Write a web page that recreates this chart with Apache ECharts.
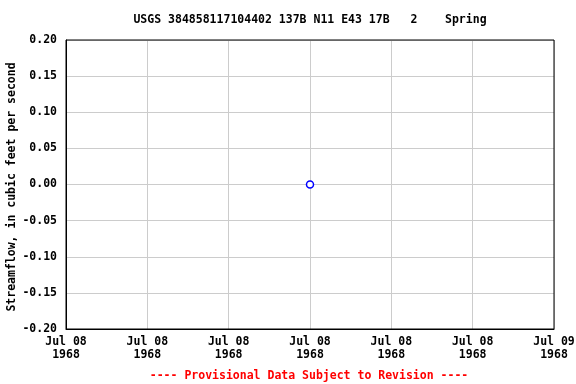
<!DOCTYPE html>
<html><head><meta charset="utf-8">
<script src="https://cdn.jsdelivr.net/npm/echarts@6/dist/echarts.min.js"></script>
<style>html,body{margin:0;padding:0;background:#fff}#c{width:576px;height:384px}</style>
</head><body><div id="c"></div>
<script>
const titleText = 'USGS 384858117104402 137B N11 E43 17B   2    Spring';
const yAxisName = 'Streamflow, in cubic feet per second';
const footerText = '---- Provisional Data Subject to Revision ----';
const xMin = Date.UTC(1968, 6, 8, 0);
const xMax = Date.UTC(1968, 6, 9, 0);
const xInterval = 4 * 3600 * 1000;
const pointTimes = [Date.UTC(1968, 6, 8, 12)];
const pointValues = [0.00];
const yMin = -0.20, yMax = 0.20, yInterval = 0.05;
const months = ['Jan','Feb','Mar','Apr','May','Jun','Jul','Aug','Sep','Oct','Nov','Dec'];

const font = 'DejaVu Sans Mono';
const fs = 11.5;
const chart = echarts.init(document.getElementById('c'), null, {renderer: 'canvas'});
chart.setOption({
  animation: false,
  backgroundColor: '#fff',
  title: [
    {text: titleText, left: 305, top: 9, textAlign: 'center',
     textStyle: {fontFamily: font, fontWeight: 'bold', fontSize: fs, color: '#000'}},
    {text: footerText, left: 304, top: 365, textAlign: 'center',
     textStyle: {fontFamily: font, fontWeight: 'bold', fontSize: fs, color: '#ff0000'}}
  ],
  grid: {left: 66, right: 22, top: 40, bottom: 55, containLabel: false, outerBoundsMode: 'none'},
  xAxis: {
    type: 'value', min: xMin, max: xMax, interval: xInterval,
    axisLine: {show: true, onZero: false, lineStyle: {color: '#000', width: 1}},
    axisTick: {show: false},
    splitLine: {show: true, lineStyle: {color: '#cccccc', width: 1}},
    axisLabel: {
      fontFamily: font, fontWeight: 'bold', fontSize: fs, color: '#000', margin: 7, lineHeight: 13,
      showMinLabel: true, showMaxLabel: true,
      formatter: function (v) {
        const d = new Date(v);
        const dd = String(d.getUTCDate()).padStart(2, '0');
        return months[d.getUTCMonth()] + ' ' + dd + '\n' + d.getUTCFullYear();
      }
    }
  },
  yAxis: {
    type: 'value', min: yMin, max: yMax, interval: yInterval,
    axisLine: {show: true, onZero: false, lineStyle: {color: '#000', width: 1}},
    axisTick: {show: false},
    splitLine: {show: true, lineStyle: {color: '#cccccc', width: 1}},
    axisLabel: {fontFamily: font, fontWeight: 'bold', fontSize: fs, color: '#000', margin: 9,
      showMinLabel: true, showMaxLabel: true,
      formatter: v => v.toFixed(2)}
  },
  series: [
    {type: 'line', data: pointTimes.map((t, i) => [t, pointValues[i]]),
     showSymbol: true, symbol: 'circle', symbolSize: 7,
     lineStyle: {width: 0},
     itemStyle: {color: '#fff', borderColor: '#0000ff', borderWidth: 1.5}}
  ],
  graphic: [
    {type: 'rect', shape: {x: 66, y: 40, width: 488, height: 289}, z: 100,
     style: {fill: 'none', stroke: '#000', lineWidth: 1}},
    {type: 'text', x: 12, y: 187, rotation: Math.PI / 2, z: 100,
     style: {text: yAxisName, fontFamily: font, fontWeight: 'bold', fontSize: fs, fill: '#000',
       align: 'center', verticalAlign: 'middle'}}
  ]
});
</script></body></html>
